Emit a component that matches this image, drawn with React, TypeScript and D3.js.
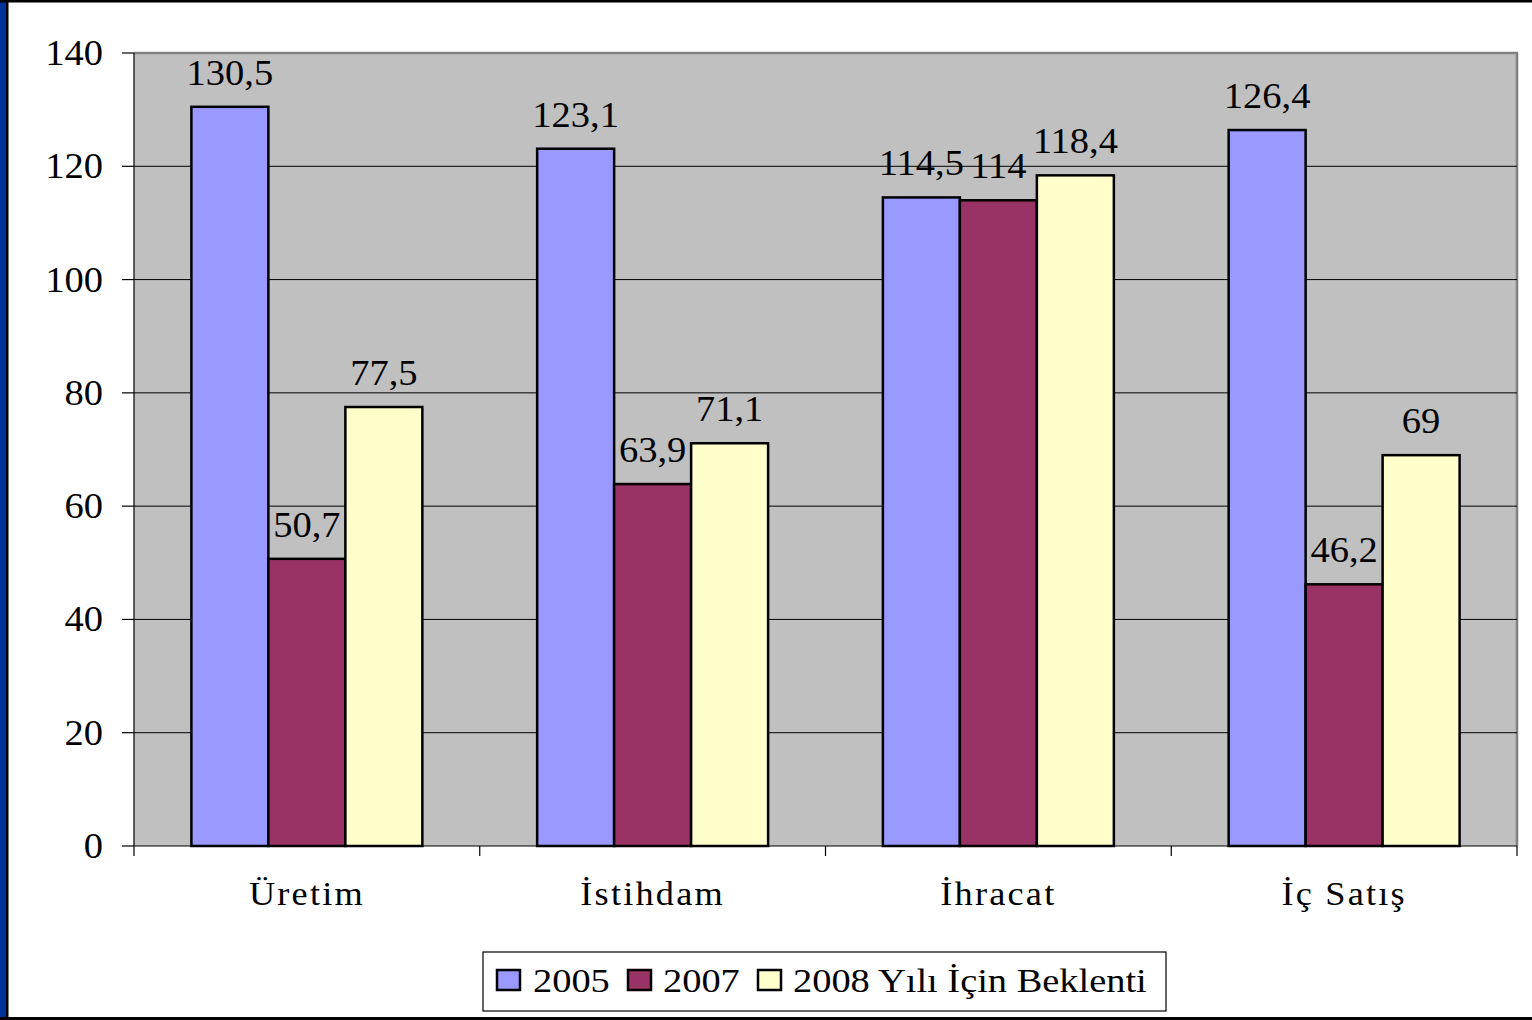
import React from "react";
import * as d3 from "d3";

const categories = ["Üretim", "İstihdam", "İhracat", "İç Satış"];
const seriesNames = ["2005", "2007", "2008 Yılı İçin Beklenti"];
const values2005 = [130.5, 123.1, 114.5, 126.4];
const values2007 = [50.7, 63.9, 114, 46.2];
const values2008 = [77.5, 71.1, 118.4, 69];
const yTicks = [0, 20, 40, 60, 80, 100, 120, 140];
const colors = ["#9999FF", "#993366", "#FFFFCC"];

const W = 1532;
const H = 1020;
const plot = { left: 134, top: 53, right: 1517, bottom: 846 };
const FONT = "'Liberation Serif', 'Times New Roman', serif";

function T(props: {
  x: number;
  y: number;
  sx: number;
  anchor?: "start" | "middle" | "end";
  size: number;
  ls?: number;
  children: React.ReactNode;
}) {
  return (
    <text
      transform={`translate(${props.x},${props.y}) scale(${props.sx},1)`}
      textAnchor={props.anchor || "start"}
      fontSize={props.size}
      letterSpacing={props.ls || 0}
      fill="#000"
    >
      {props.children}
    </text>
  );
}

export default function App() {
  const series = [values2005, values2007, values2008];
  const x0 = d3
    .scaleBand<string>()
    .domain(categories)
    .range([plot.left, plot.right])
    .paddingInner(0.332)
    .paddingOuter(0.166);
  const x1 = d3
    .scaleBand<number>()
    .domain([0, 1, 2])
    .range([0, x0.bandwidth()]);
  const y = d3.scaleLinear().domain([0, 140]).range([plot.bottom, plot.top]);
  const fmt = (v: number) => String(v).replace(".", ",");
  const step = (plot.right - plot.left) / categories.length;
  const boundaries = d3.range(categories.length + 1).map((i) => plot.left + i * step);

  const legendItems = [
    { x: 497, tx: 533 },
    { x: 628, tx: 663 },
    { x: 758, tx: 793 },
  ];

  return (
    <svg
      width={W}
      height={H}
      style={{ position: "absolute", left: 0, top: 0, background: "#fff" }}
      fontFamily={FONT}
    >
      <rect x={0} y={0} width={W} height={H} fill="#fff" />
      {/* frame */}
      <rect x={0} y={0} width={7} height={H} fill="#003399" />
      <rect x={6} y={0} width={2.5} height={H} fill="#000" />
      <rect x={0} y={0} width={W} height={2.5} fill="#000" />
      <rect x={0} y={1017} width={W} height={3} fill="#000" />

      {/* plot area */}
      <rect
        x={plot.left}
        y={plot.top}
        width={plot.right - plot.left}
        height={plot.bottom - plot.top}
        fill="#C0C0C0"
      />
      <line x1={plot.left} x2={plot.right + 1} y1={plot.top} y2={plot.top} stroke="#808080" strokeWidth={2.5} />
      <line x1={plot.right} x2={plot.right} y1={plot.top} y2={plot.bottom} stroke="#808080" strokeWidth={2.5} />

      {/* gridlines */}
      {yTicks
        .filter((t) => t !== 0 && t !== 140)
        .map((t) => (
          <line key={t} x1={plot.left} x2={plot.right} y1={y(t)} y2={y(t)} stroke="#000" strokeWidth={1} />
        ))}

      {/* y axis */}
      <line x1={plot.left} x2={plot.left} y1={plot.top} y2={plot.bottom} stroke="#000" strokeWidth={1.2} />
      {yTicks.map((t) => (
        <g key={t}>
          <line x1={plot.left - 12} x2={plot.left} y1={y(t)} y2={y(t)} stroke="#000" strokeWidth={1.2} />
          <T x={103} y={y(t) + 12} sx={1.1} anchor="end" size={35}>
            {t}
          </T>
        </g>
      ))}

      {/* bars */}
      {categories.map((c, ci) => (
        <g key={c} transform={`translate(${x0(c)},0)`}>
          {series.map((s, si) => {
            const v = s[ci];
            const bx = x1(si)!;
            return (
              <g key={si}>
                <rect
                  x={bx}
                  y={y(v)}
                  width={x1.bandwidth()}
                  height={y(0) - y(v)}
                  fill={colors[si]}
                  stroke="#000"
                  strokeWidth={2.5}
                />
                <T x={bx + x1.bandwidth() / 2} y={y(v) - 22} sx={1.1} anchor="middle" size={35}>
                  {fmt(v)}
                </T>
              </g>
            );
          })}
        </g>
      ))}

      {/* x axis */}
      <line x1={plot.left} x2={plot.right} y1={plot.bottom} y2={plot.bottom} stroke="#000" strokeWidth={1.2} />
      {boundaries.map((b, i) => (
        <line key={i} x1={b} x2={b} y1={plot.bottom} y2={plot.bottom + 10} stroke="#000" strokeWidth={1.2} />
      ))}
      {categories.map((c) => (
        <T key={c} x={x0(c)! + x0.bandwidth() / 2} y={905} sx={1.1} anchor="middle" size={33} ls={2}>
          {c}
        </T>
      ))}

      {/* legend */}
      <rect x={483} y={952} width={683} height={59} fill="#fff" stroke="#000" strokeWidth={1.2} />
      {seriesNames.map((n, i) => (
        <g key={n}>
          <rect
            x={legendItems[i].x}
            y={970}
            width={23}
            height={20}
            fill={colors[i]}
            stroke="#000"
            strokeWidth={2.5}
          />
          <T x={legendItems[i].tx} y={992} sx={1.13} size={34}>
            {n}
          </T>
        </g>
      ))}
    </svg>
  );
}
